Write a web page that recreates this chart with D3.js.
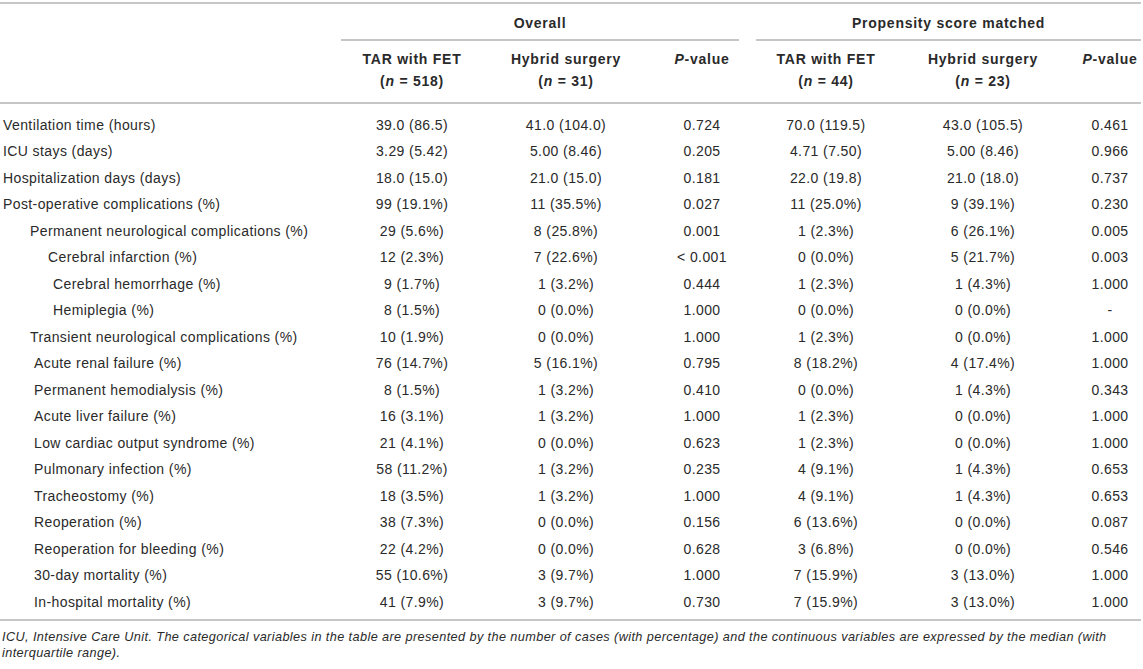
<!DOCTYPE html>
<html>
<head>
<meta charset="utf-8">
<script src="https://cdn.jsdelivr.net/npm/d3@7"></script>
<style>
  body { margin: 0; background: #fff; }
  svg text { font-family: "Liberation Sans", Arial, Helvetica, sans-serif; fill: #2a2a2a; }
</style>
</head>
<body>
<div id="chart"></div>
<script>
// Table contents
const rowLabels = [
    'Ventilation time (hours)',
    'ICU stays (days)',
    'Hospitalization days (days)',
    'Post-operative complications (%)',
    'Permanent neurological complications (%)',
    'Cerebral infarction (%)',
    'Cerebral hemorrhage (%)',
    'Hemiplegia (%)',
    'Transient neurological complications (%)',
    'Acute renal failure (%)',
    'Permanent hemodialysis (%)',
    'Acute liver failure (%)',
    'Low cardiac output syndrome (%)',
    'Pulmonary infection (%)',
    'Tracheostomy (%)',
    'Reoperation (%)',
    'Reoperation for bleeding (%)',
    '30-day mortality (%)',
    'In-hospital mortality (%)'
];

// nesting level of each row label
const rowLevels = [0, 0, 0, 0, 1, 2, 3, 3, 1, 4, 4, 4, 4, 4, 4, 4, 4, 4, 4];

const tarOverall = ['39.0 (86.5)', '3.29 (5.42)', '18.0 (15.0)', '99 (19.1%)', '29 (5.6%)', '12 (2.3%)', '9 (1.7%)', '8 (1.5%)',
    '10 (1.9%)', '76 (14.7%)', '8 (1.5%)', '16 (3.1%)', '21 (4.1%)', '58 (11.2%)', '18 (3.5%)', '38 (7.3%)', '22 (4.2%)', '55 (10.6%)', '41 (7.9%)'];
const hybridOverall = ['41.0 (104.0)', '5.00 (8.46)', '21.0 (15.0)', '11 (35.5%)', '8 (25.8%)', '7 (22.6%)', '1 (3.2%)', '0 (0.0%)',
    '0 (0.0%)', '5 (16.1%)', '1 (3.2%)', '1 (3.2%)', '0 (0.0%)', '1 (3.2%)', '1 (3.2%)', '0 (0.0%)', '0 (0.0%)', '3 (9.7%)', '3 (9.7%)'];
const pOverall = ['0.724', '0.205', '0.181', '0.027', '0.001', '< 0.001', '0.444', '1.000',
    '1.000', '0.795', '0.410', '1.000', '0.623', '0.235', '1.000', '0.156', '0.628', '1.000', '0.730'];
const tarMatched = ['70.0 (119.5)', '4.71 (7.50)', '22.0 (19.8)', '11 (25.0%)', '1 (2.3%)', '0 (0.0%)', '1 (2.3%)', '0 (0.0%)',
    '1 (2.3%)', '8 (18.2%)', '0 (0.0%)', '1 (2.3%)', '1 (2.3%)', '4 (9.1%)', '4 (9.1%)', '6 (13.6%)', '3 (6.8%)', '7 (15.9%)', '7 (15.9%)'];
const hybridMatched = ['43.0 (105.5)', '5.00 (8.46)', '21.0 (18.0)', '9 (39.1%)', '6 (26.1%)', '5 (21.7%)', '1 (4.3%)', '0 (0.0%)',
    '0 (0.0%)', '4 (17.4%)', '1 (4.3%)', '0 (0.0%)', '0 (0.0%)', '1 (4.3%)', '1 (4.3%)', '0 (0.0%)', '0 (0.0%)', '3 (13.0%)', '3 (13.0%)'];
const pMatched = ['0.461', '0.966', '0.737', '0.230', '0.005', '0.003', '1.000', '-',
    '1.000', '1.000', '0.343', '1.000', '1.000', '0.653', '0.653', '0.087', '0.546', '1.000', '1.000'];

const columnKeys = ['tarOverall', 'hybridOverall', 'pOverall', 'tarMatched', 'hybridMatched', 'pMatched'];
const columnValues = [tarOverall, hybridOverall, pOverall, tarMatched, hybridMatched, pMatched];
const columnNames = ['TAR with FET', 'Hybrid surgery', 'P-value', 'TAR with FET', 'Hybrid surgery', 'P-value'];
const columnCounts = ['518', '31', null, '44', '23', null];

const groupNames = ['Overall', 'Propensity score matched'];

const footnoteLines = [
    'ICU, Intensive Care Unit. The categorical variables in the table are presented by the number of cases (with percentage) and the continuous variables are expressed by the median (with',
    'interquartile range).'
];

// Layout
const width = 1143;
const height = 669;
const fontSize = 14;
const spacing = 0.4;
const boldSpacing = 0.75;
const lineColor = '#b3b3b3';
const indentPx = [3, 30, 48, 53, 34];

const svg = d3.select('#chart')
    .append('svg')
    .attr('width', width)
    .attr('height', height);

const xCol = d3.scaleOrdinal()
    .domain(columnKeys)
    .range([412, 566, 702, 826, 983, 1110]);

const yRow = d3.scalePoint()
    .domain(d3.range(rowLabels.length))
    .range([125, 602]);

const xGroup = d3.scaleOrdinal()
    .domain(groupNames)
    .range([[341, 739], [756, 1141]]);

function hline(x1, x2, y) {
    svg.append('line')
        .attr('x1', x1).attr('x2', x2)
        .attr('y1', y).attr('y2', y)
        .attr('stroke', lineColor)
        .attr('stroke-width', 1.5);
}

// Rules
hline(0, 1141, 3);
hline(0, 1141, 103);
hline(0, 1141, 620);
groupNames.forEach(g => {
    const [a, b] = xGroup(g);
    hline(a, b, 40);
});

// Group headers
svg.selectAll('.group')
    .data(groupNames)
    .enter()
    .append('text')
    .attr('class', 'group')
    .attr('x', d => (xGroup(d)[0] + xGroup(d)[1]) / 2)
    .attr('y', 23)
    .attr('dy', '0.35em')
    .attr('text-anchor', 'middle')
    .attr('font-size', fontSize)
    .attr('letter-spacing', boldSpacing)
    .attr('font-weight', 'bold')
    .text(d => d);

// Column headers
columnKeys.forEach((key, i) => {
    const name = columnNames[i];
    const t = svg.append('text')
        .attr('x', xCol(key))
        .attr('y', 59)
        .attr('dy', '0.35em')
        .attr('text-anchor', 'middle')
        .attr('font-size', fontSize)
        .attr('letter-spacing', boldSpacing)
        .attr('font-weight', 'bold');
    if (name.startsWith('P-')) {
        t.append('tspan').attr('font-style', 'italic').text('P');
        t.append('tspan').text(name.slice(1));
    } else {
        t.text(name);
    }
    if (columnCounts[i]) {
        const n = svg.append('text')
            .attr('x', xCol(key))
            .attr('y', 81)
            .attr('dy', '0.35em')
            .attr('text-anchor', 'middle')
            .attr('font-size', fontSize)
            .attr('letter-spacing', boldSpacing)
            .attr('font-weight', 'bold');
        n.append('tspan').text('(');
        n.append('tspan').attr('font-style', 'italic').text('n');
        n.append('tspan').text(' = ' + columnCounts[i] + ')');
    }
});

// Row labels
svg.selectAll('.row-label')
    .data(rowLabels)
    .enter()
    .append('text')
    .attr('class', 'row-label')
    .attr('x', (d, i) => indentPx[rowLevels[i]])
    .attr('y', (d, i) => yRow(i))
    .attr('dy', '0.35em')
    .attr('font-size', fontSize)
    .attr('letter-spacing', spacing)
    .text(d => d);

// Cell values
columnKeys.forEach((key, c) => {
    svg.selectAll('.cell-' + key)
        .data(columnValues[c])
        .enter()
        .append('text')
        .attr('class', 'cell-' + key)
        .attr('x', xCol(key))
        .attr('y', (d, i) => yRow(i))
        .attr('dy', '0.35em')
        .attr('text-anchor', 'middle')
        .attr('font-size', fontSize)
        .attr('letter-spacing', spacing)
        .text(d => d);
});

// Footnote
svg.selectAll('.footnote')
    .data(footnoteLines)
    .enter()
    .append('text')
    .attr('class', 'footnote')
    .attr('x', 2)
    .attr('y', (d, i) => 637 + i * 16)
    .attr('dy', '0.35em')
    .attr('font-size', 12.7)
    .attr('letter-spacing', spacing)
    .attr('font-style', 'italic')
    .text(d => d);
</script>
</body>
</html>
